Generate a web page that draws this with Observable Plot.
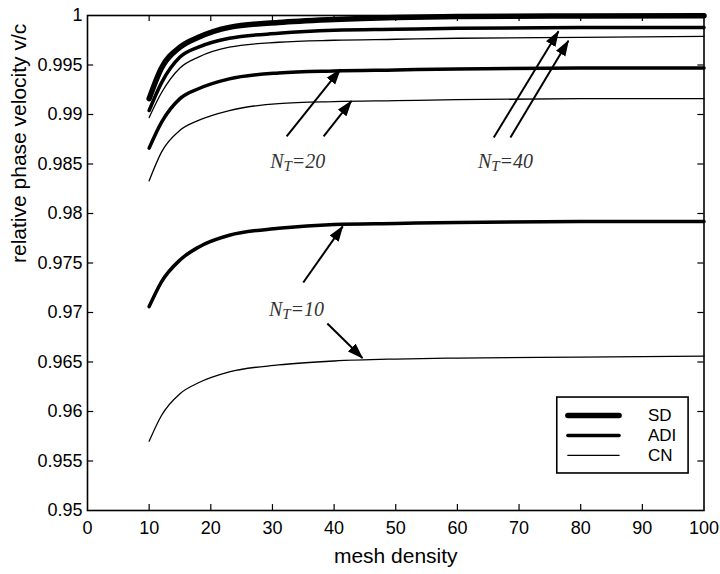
<!DOCTYPE html>
<html>
<head>
<meta charset="utf-8">
<script src="https://cdn.jsdelivr.net/npm/d3@7"></script>
<script src="https://cdn.jsdelivr.net/npm/@observablehq/plot@0.6"></script>
<style>
  html, body { margin: 0; padding: 0; background: #fff; }
  #chart svg { display: block; }
</style>
</head>
<body>
<div id="chart"></div>
<script>
// ---------- data ----------
const meshDensity = [10, 12, 15, 18, 23, 31, 40, 50, 60, 80, 100];

const sd     = [0.9916, 0.9947, 0.9968, 0.9978, 0.9988, 0.9993, 0.9996, 0.9998, 0.9999, 0.99995, 0.99997];
const adi40  = [0.9904, 0.9932, 0.9958, 0.9968, 0.9977, 0.9982, 0.9985, 0.9986, 0.9987, 0.9988, 0.9988];
const cn40   = [0.9897, 0.9922, 0.9947, 0.9958, 0.9968, 0.9973, 0.9975, 0.9976, 0.9977, 0.9978, 0.9979];
const adi20  = [0.9866, 0.9892, 0.9916, 0.9926, 0.9936, 0.9942, 0.9944, 0.9945, 0.9946, 0.9947, 0.9947];
const cn20   = [0.9833, 0.9862, 0.9884, 0.9894, 0.9904, 0.9911, 0.9913, 0.9914, 0.9915, 0.9916, 0.9916];
const adi10  = [0.9706, 0.9731, 0.9753, 0.9766, 0.9778, 0.9785, 0.9789, 0.9790, 0.9791, 0.9792, 0.9792];
const cn10   = [0.9570, 0.9596, 0.9618, 0.9629, 0.9640, 0.9647, 0.9651, 0.9653, 0.9654, 0.9655, 0.9656];

const seriesList = [
  {method: "SD",  nt: "all", values: sd},
  {method: "ADI", nt: "40",  values: adi40},
  {method: "CN",  nt: "40",  values: cn40},
  {method: "ADI", nt: "20",  values: adi20},
  {method: "CN",  nt: "20",  values: cn20},
  {method: "ADI", nt: "10",  values: adi10},
  {method: "CN",  nt: "10",  values: cn10}
];

const methods = ["SD", "ADI", "CN"];
const xTicks = [0, 10, 20, 30, 40, 50, 60, 70, 80, 90, 100];
const yTicks = [0.95, 0.955, 0.96, 0.965, 0.97, 0.975, 0.98, 0.985, 0.99, 0.995, 1];

// annotation labels and arrows (data coordinates)
const ntLabels = [
  {text: "NT=20", x: 34.1, y: 0.98525},
  {text: "NT=40", x: 67.8, y: 0.98525},
  {text: "NT=10", x: 33.9, y: 0.97030}
];
const ntArrows = [
  {x1: 32.3, y1: 0.98778, x2: 41.0, y2: 0.99455},
  {x1: 38.3, y1: 0.98778, x2: 42.8, y2: 0.99135},
  {x1: 65.9, y1: 0.98768, x2: 76.4, y2: 0.99840},
  {x1: 68.6, y1: 0.98768, x2: 78.0, y2: 0.99745},
  {x1: 35.0, y1: 0.97303, x2: 41.4, y2: 0.97870},
  {x1: 38.9, y1: 0.96889, x2: 44.6, y2: 0.96540}
];

// legend placement (data coordinates)
const legendBox = {x1: 76.2, x2: 97.5, y1: 0.95374, y2: 0.96141};
const legendRowY = [0.95960, 0.95758, 0.95556];
const legendLine = {x1: 78.0, x2: 86.3};
const legendTextX = 90.9;

// ---------- styles ----------
const methodWidth = {SD: 5.5, ADI: 3.5, CN: 1.3};

// ---------- build table ----------
const rows = seriesList.flatMap(s =>
  s.values.map((v, i) => ({x: meshDensity[i], y: v, method: s.method, key: s.method + "-" + s.nt}))
);

const marks = [];

// curves
for (const m of methods) {
  marks.push(Plot.line(rows.filter(d => d.method === m), {
    x: "x", y: "y", z: "key", stroke: "black",
    strokeWidth: methodWidth[m], curve: "monotone-x",
    strokeLinejoin: "round", strokeLinecap: "round"
  }));
}

// inward ticks on all four sides
marks.push(Plot.ruleY(yTicks.slice(1, -1), {y: d => d, x1: 0, x2: 1, stroke: "black", strokeWidth: 1.2}));
marks.push(Plot.ruleY(yTicks.slice(1, -1), {y: d => d, x1: 99, x2: 100, stroke: "black", strokeWidth: 1.2}));
marks.push(Plot.ruleX(xTicks.slice(1, -1), {x: d => d, y1: 0.95, y2: 0.9506, stroke: "black", strokeWidth: 1.2}));
marks.push(Plot.ruleX(xTicks.slice(1, -1), {x: d => d, y1: 1, y2: 0.9994, stroke: "black", strokeWidth: 1.2}));

// frame
marks.push(Plot.frame({stroke: "black", strokeWidth: 1.6}));

// axes
marks.push(Plot.axisX({ticks: xTicks, tickSize: 0, tickPadding: 11, fontSize: 18, label: null}));
marks.push(Plot.axisY({ticks: yTicks, tickSize: 0, tickPadding: 5, fontSize: 18, label: null,
  tickFormat: d => String(+d.toFixed(3))}));

// axis titles
marks.push(Plot.text(["relative phase velocity v/c"], {
  frameAnchor: "left", text: d => d, rotate: -90, dx: -68, fontSize: 21, fill: "black"
}));
marks.push(Plot.text(["mesh density"], {
  frameAnchor: "bottom", text: d => d, dy: 52, fontSize: 21, fill: "black"
}));

// annotation arrows
marks.push(Plot.link(ntArrows, {
  x1: "x1", y1: "y1", x2: "x2", y2: "y2", stroke: "black", strokeWidth: 2,
  className: "ntarrow"
}));

// annotation labels
marks.push(Plot.text(ntLabels, {
  x: "x", y: "y", text: "text", fontFamily: "Liberation Serif", fontStyle: "italic",
  fontSize: 20, fill: "#333", className: "ntlabel"
}));

// legend
marks.push(Plot.rect([legendBox], {x1: "x1", x2: "x2", y1: "y1", y2: "y2",
  fill: "white", stroke: "black", strokeWidth: 1.6}));
methods.forEach((m, i) => {
  marks.push(Plot.ruleY([legendRowY[i]], {y: d => d, x1: legendLine.x1, x2: legendLine.x2,
    stroke: "black", strokeWidth: methodWidth[m], strokeLinecap: "round"}));
  marks.push(Plot.text([m], {x: legendTextX, y: legendRowY[i], text: d => d,
    textAnchor: "start", fontSize: 17, fill: "black"}));
});

const chart = Plot.plot({
  width: 720,
  height: 574,
  marginLeft: 87,
  marginRight: 16.5,
  marginTop: 15,
  marginBottom: 64,
  x: {domain: [0, 100]},
  y: {domain: [0.95, 1]},
  style: {fontFamily: "'Liberation Sans', Arial, sans-serif", fontSize: "18px", color: "black", background: "white"},
  marks
});

document.getElementById("chart").appendChild(chart);

// ---------- post-processing: filled arrowheads & subscripts ----------
const svg = d3.select(chart.tagName.toLowerCase() === "svg" ? chart : chart.querySelector("svg"));
const defs = svg.insert("defs", ":first-child");
defs.append("marker")
  .attr("id", "ntHead")
  .attr("viewBox", "0 -6 16 12")
  .attr("refX", 15)
  .attr("refY", 0)
  .attr("markerWidth", 16)
  .attr("markerHeight", 12)
  .attr("markerUnits", "userSpaceOnUse")
  .attr("orient", "auto")
  .append("path")
  .attr("d", "M0,-5.5L16,0L0,5.5Z")
  .attr("fill", "black");
svg.selectAll("g.ntarrow path, g.ntarrow line").attr("marker-end", "url(#ntHead)");

svg.selectAll("g.ntlabel text").each(function () {
  const s = this.textContent;
  const m = s.match(/^N(T)(.*)$/);
  if (!m) return;
  const t = d3.select(this);
  t.text(null);
  t.append("tspan").text("N");
  t.append("tspan").attr("font-size", "15px").attr("dy", "3").text(m[1]);
  t.append("tspan").attr("dy", "-3").text(m[2]);
});
</script>
</body>
</html>
